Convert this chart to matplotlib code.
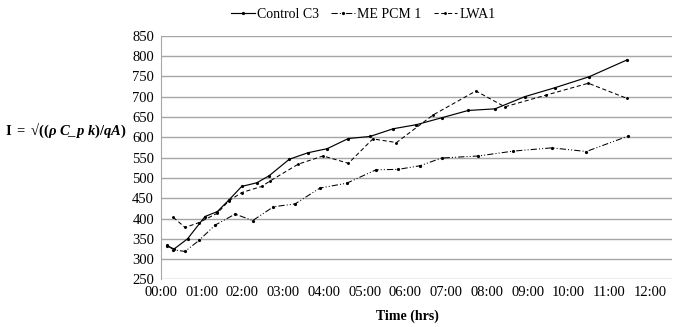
import matplotlib
matplotlib.use("Agg")
import matplotlib.pyplot as plt

plt.rcParams['font.family'] = ['Liberation Serif', 'DejaVu Serif']
plt.rcParams['mathtext.fontset'] = 'custom'
plt.rcParams['mathtext.rm'] = 'Liberation Serif'
plt.rcParams['mathtext.bf'] = 'Liberation Serif:bold'
plt.rcParams['mathtext.it'] = 'Liberation Serif:italic'
plt.rcParams['mathtext.bfit'] = 'Liberation Serif:bold:italic'

# time in hours
ctrl_t = [0.15, 0.32, 0.65, 1.08, 1.38, 1.67, 1.98, 2.35, 2.65, 3.15, 3.61, 4.08,
          4.6, 5.13, 5.7, 6.27, 6.89, 7.54, 8.2, 8.93, 9.67, 10.51, 11.43]
ctrl_v = [333, 325, 350, 405, 417, 446, 479, 488, 505, 546, 562, 572,
          597, 602, 621, 631, 648, 666, 670, 700, 722, 749, 790]

pcm_t = [0.15, 0.3, 0.59, 0.93, 1.33, 1.82, 2.25, 2.76, 3.29, 3.9, 4.56, 5.28,
         5.82, 6.36, 6.89, 7.79, 8.65, 9.59, 10.44, 11.47]
pcm_v = [335, 323, 319, 346, 384, 411, 395, 429, 436, 475, 487, 520,
         521, 530, 549, 554, 566, 574, 565, 603]

lwa_t = [0.3, 0.59, 0.93, 1.38, 1.67, 1.98, 2.47, 2.67, 3.37, 3.98, 4.6, 5.2,
         5.78, 6.68, 7.73, 8.44, 9.46, 10.49, 11.43]
lwa_v = [403, 378, 390, 413, 444, 464, 479, 492, 534, 554, 536, 596,
         587, 655, 714, 675, 704, 733, 696]

hour_labels = ['%02d:00' % h for h in range(13)]

fig = plt.figure(figsize=(6.8, 3.27), dpi=100)
ax = fig.add_axes([0.2368, 0.1453, 0.7512, 0.7455])

ax.plot(ctrl_t, ctrl_v, color='black', lw=0.85, marker='o', ms=1.3, label='Control C3')
ax.plot(pcm_t, pcm_v, color='black', lw=0.75, marker='o', ms=1.3,
        dashes=(6, 2, 1, 2, 1, 2), label='ME PCM 1')
ax.plot(lwa_t, lwa_v, color='black', lw=0.75, marker='o', ms=1.1,
        dashes=(4, 2.5), label='LWA1')

ax.set_xlim(0, 12.54)
ax.set_ylim(250, 850)
ax.set_xticks(range(13))
ax.set_xticklabels(hour_labels)
ax.set_yticks(range(250, 851, 50))
ax.tick_params(length=0, labelsize=10.5, colors='black', pad=5)
ax.grid(axis='y', color='#a6a6a6', lw=1)
ax.set_axisbelow(True)
for s in ['top', 'right', 'bottom']:
    ax.spines[s].set_visible(False)
ax.spines['left'].set_color('#a6a6a6')

fig.legend(loc='center', bbox_to_anchor=(0.534, 0.957), ncol=3, frameon=False,
           fontsize=10, handlelength=1.7, columnspacing=0.9, handletextpad=0.15)

fig.text(5 / 680, 0.6,
         r'$\mathbf{I\ =\ √((}\mathbfit{\rho\ C\_p\ k}\mathbf{)/}\mathbfit{qA}\mathbf{)}$',
         ha='left', va='center', fontsize=10.5)
fig.text(407 / 680, 0.032, 'Time (hrs)', ha='center', va='center',
         fontsize=10, fontweight='bold')

fig.savefig('out.png', dpi=100)
